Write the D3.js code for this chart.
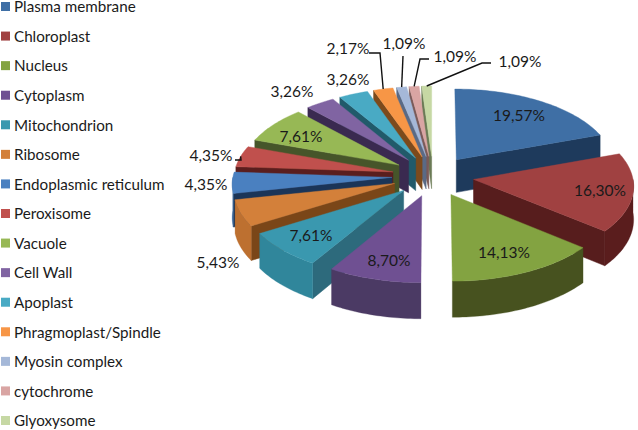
<!DOCTYPE html>
<html>
<head>
<meta charset="utf-8">
<script src="https://cdn.jsdelivr.net/npm/d3@7/dist/d3.min.js"></script>
<style>
	html, body { margin: 0; padding: 0; background: #fff; }
	text { font-family: Lato, "Open Sans", sans-serif; fill: #1a1a1a; }
</style>
</head>
<body>
<svg id="chart" width="638" height="430"></svg>
<script>
var categories = ["Plasma membrane", "Chloroplast", "Nucleus", "Cytoplasm", "Mitochondrion", "Ribosome",
	"Endoplasmic reticulum", "Peroxisome", "Vacuole", "Cell Wall", "Apoplast", "Phragmoplast/Spindle",
	"Myosin complex", "cytochrome", "Glyoxysome"];
var values = [19.57, 16.30, 14.13, 8.70, 7.61, 5.43, 4.35, 4.35, 7.61, 3.26, 3.26, 2.17, 1.09, 1.09, 1.09];
var valueLabels = ["19,57%", "16,30%", "14,13%", "8,70%", "7,61%", "5,43%", "4,35%", "4,35%", "7,61%",
	"3,26%", "3,26%", "2,17%", "1,09%", "1,09%", "1,09%"];
var topColors = ["#3f6fa5", "#a04141", "#83a341", "#6f5092", "#3a98af", "#d3803a", "#4a80c0", "#c0504d",
	"#97b855", "#8064a2", "#49aac4", "#f79646", "#a5b8d8", "#d9a5a3", "#c6d8a4"];
var sideColors = ["#1e3a5c", "#571d1d", "#45501f", "#47365f", "#2d6a7c", "#7a4618", "#1b3558", "#5a1e1e",
	"#46552a", "#3a2a50", "#215a6a", "#7c4a1c", "#5a6a85", "#7a5a58", "#6a7a55"];
var rimColors = ["#1e3a5c", "#5a1d1d", "#47521f", "#4b3a64", "#30869b", "#bd7030", "#2f5f96", "#5a1e1e",
	"#46552a", "#3a2a50", "#215a6a", "#7c4a1c", "#5a6a85", "#7a5a58", "#6a7a55"];
var labelX = [519, 600, 504, 389, 311, 218, 206, 211, 301, 292, 348, 348, 404, 455, 520];
var labelY = [116, 191, 253, 261, 236, 263, 185, 156, 137, 92, 80, 49, 44, 57, 62];
// leader elbows, null where the label sits without a line
var leaders = [null, null, null, null, null, null, null,
	[[235, 160], [241, 160]], null, null, null,
	[[369, 53], [380, 53]], [[403, 56]], [[429, 59], [420, 59]], [[491, 63], [482, 63]]];

var svg = d3.select("#chart");

// 3D pie projection
var cx = 433, cy = 176, radius = 159, explode = 41, tilt = 0.49, persp = 0.07, depth = 33;

function project(a, r, mid, z) {
	var X = r * Math.sin(a) + explode * Math.sin(mid),
		Y = r * Math.cos(a) + explode * Math.cos(mid);
	var s = 1 / (1 + persp * Y / radius);
	return [cx + X * s, cy - Y * tilt * s + z * s];
}

var slices = d3.pie().sort(null).value(function(d) { return d; })(values);
slices.forEach(function(d, i) {
	d.i = i;
	d.mid = (d.startAngle + d.endAngle) / 2;
});

var line = d3.line();

function arcPoints(d, z, from, to) {
	var n = Math.max(2, Math.ceil((to - from) / 0.02));
	return d3.range(n + 1).map(function(k) {
		return project(from + (to - from) * k / n, radius, d.mid, z);
	});
}
function apex(d, z) {
	return project(d.startAngle, 0, d.mid, z);
}
function radialFace(slice, d, angle, color) {
	var p0 = project(angle, radius, d.mid, 0), p1 = project(angle, radius, d.mid, depth);
	slice.append("path").attr("d", line([apex(d, 0), p0, p1, apex(d, depth)]) + "Z")
		.attr("fill", color).attr("stroke", color).attr("stroke-width", 0.5);
}

// back to front
var order = slices.slice().sort(function(a, b) { return Math.cos(b.mid) - Math.cos(a.mid); });

var g = svg.append("g");
order.forEach(function(d) {
	var slice = g.append("g").attr("class", "slice");
	var top = topColors[d.i];

	// start face looks to the front on the left half, end face on the right half
	if (Math.sin(d.startAngle) < -0.01) radialFace(slice, d, d.startAngle, sideColors[d.i]);
	if (Math.sin(d.endAngle) > 0.01) radialFace(slice, d, d.endAngle, sideColors[d.i]);

	// outer wall, front part only
	var from = Math.max(d.startAngle, Math.PI / 2), to = Math.min(d.endAngle, Math.PI * 1.5);
	if (to > from) {
		var wall = arcPoints(d, 0, from, to).concat(arcPoints(d, depth, from, to).reverse());
		slice.append("path").attr("d", line(wall) + "Z")
			.attr("fill", rimColors[d.i]).attr("stroke", rimColors[d.i]).attr("stroke-width", 0.3);
	}
	var face = [apex(d, 0)].concat(arcPoints(d, 0, d.startAngle, d.endAngle));
	slice.append("path").attr("d", line(face) + "Z")
		.attr("fill", top).attr("stroke", top).attr("stroke-width", 0.4);
});

// leader lines end at the rim of their slice
slices.forEach(function(d, i) {
	if (!leaders[i]) return;
	var end = project(d.mid, radius, d.mid, 0);
	svg.append("path")
		.attr("d", line(leaders[i].concat([end])))
		.attr("fill", "none").attr("stroke", "#111").attr("stroke-width", 1.4);
});

svg.selectAll("text.value").data(valueLabels).enter().append("text")
	.attr("class", "value")
	.attr("x", function(d, i) { return labelX[i]; })
	.attr("y", function(d, i) { return labelY[i]; })
	.attr("dy", "0.35em")
	.attr("text-anchor", "middle")
	.style("font-size", "15.5px")
	.text(function(d) { return d; });

// legend
var legendY = d3.scalePoint().domain(categories).range([7, 421]);
var legend = svg.selectAll("g.legend").data(categories).enter().append("g")
	.attr("class", "legend")
	.attr("transform", function(d) { return "translate(0," + legendY(d) + ")"; });
legend.append("rect")
	.attr("x", 1).attr("y", -5).attr("width", 9).attr("height", 9)
	.attr("fill", function(d, i) { return topColors[i]; });
legend.append("text")
	.attr("x", 14).attr("dy", "0.35em")
	.style("font-size", "15.2px")
	.text(function(d) { return d; });
</script>
</body>
</html>
